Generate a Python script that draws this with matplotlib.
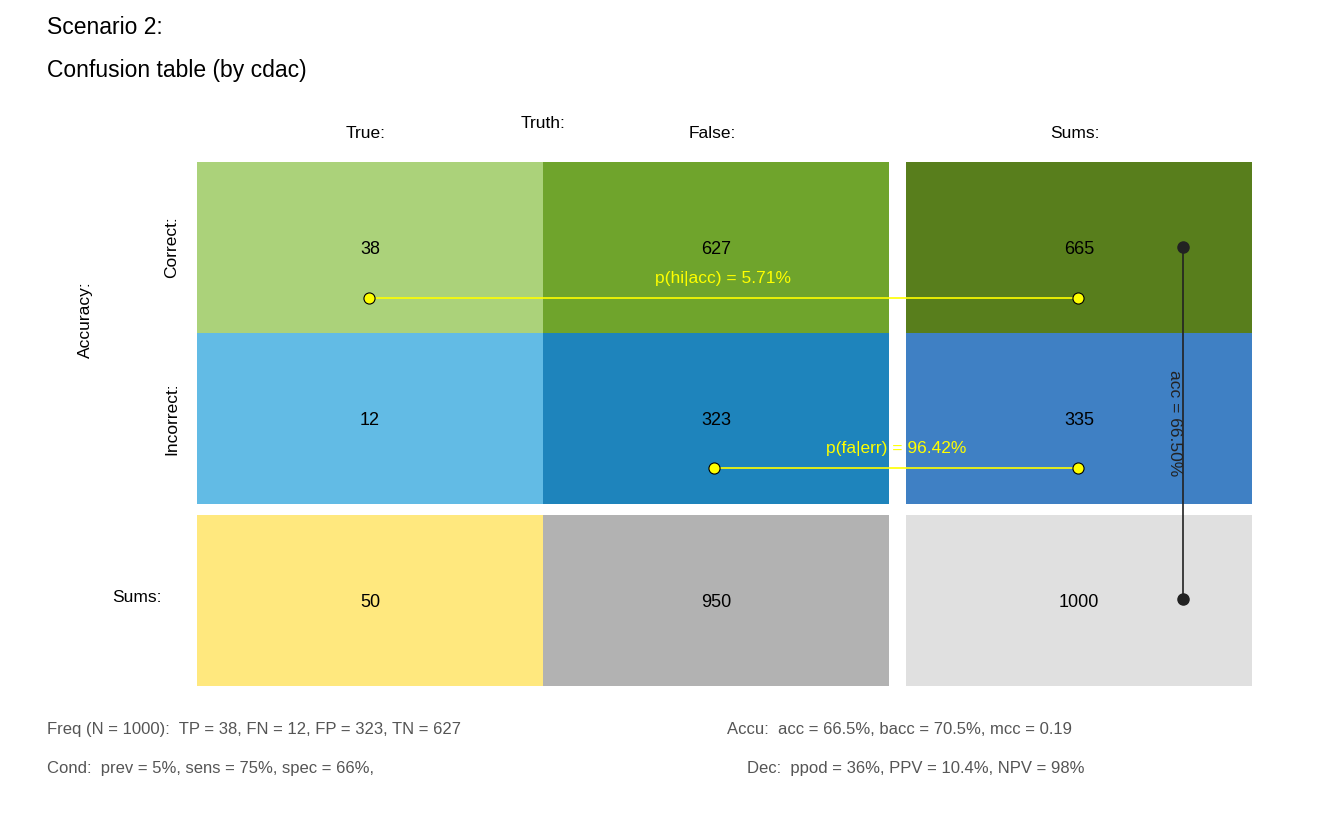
import numpy as np
import matplotlib.pyplot as plt

plt.rcParams['font.family'] = ['Liberation Sans', 'DejaVu Sans']

# counts: rows = Correct, Incorrect, Sums ; cols = True, False, Sums
counts = [[38, 627, 665],
          [12, 323, 335],
          [50, 950, 1000]]
colors = [['#ABD27A', '#6FA42C', '#587E1C'],
          ['#62BBE5', '#1E84BC', '#3F80C4'],
          ['#FFE87E', '#B2B2B2', '#E0E0E0']]
col_labels = ['True:', 'False:', 'Sums:']
row_labels = ['Correct:', 'Incorrect:', 'Sums:']
p_hi_acc = 38 / 665 * 100
p_fa_err = 323 / 335 * 100
acc = 665 / 1000 * 100
footer1 = ['Freq (N = 1000):  TP = 38, FN = 12, FP = 323, TN = 627',
           'Accu:  acc = 66.5%, bacc = 70.5%, mcc = 0.19']
footer2 = ['Cond:  prev = 5%, sens = 75%, spec = 66%,',
           'Dec:  ppod = 36%, PPV = 10.4%, NPV = 98%']

fig = plt.figure(figsize=(13.44, 8.3), dpi=100)
ax = fig.add_axes([0, 0, 1, 1])
ax.set_xlim(0, 1344)
ax.set_ylim(830, 0)
ax.axis('off')

x0, y0, w, h, gap = 197, 162, 346, 171, 17
def cx(j):
    return x0 + j * w + (gap if j == 2 else 0)
def cy(i):
    return y0 + i * h + (gap * 0.65 if i == 2 else 0)

for i in range(3):
    for j in range(3):
        ax.add_patch(plt.Rectangle((cx(j), cy(i)), w, h, color=colors[i][j], lw=0))
        ax.text(cx(j) + w / 2, cy(i) + h / 2 + 2, str(counts[i][j]),
                ha='center', va='center', fontsize=13)

for j, lab in enumerate(col_labels):
    ax.text(cx(j) + w / 2 - 4, 133, lab, ha='center', va='center', fontsize=12.5)
ax.text(543, 124, 'Truth:', ha='center', va='center', fontsize=12.5)
ax.text(172, cy(0) + h / 2, row_labels[0], rotation=90, ha='center', va='center', fontsize=12.5)
ax.text(172, cy(1) + h / 2, row_labels[1], rotation=90, ha='center', va='center', fontsize=12.5)
ax.text(137, 597, row_labels[2], ha='center', va='center', fontsize=12.5)
ax.text(85, 320, 'Accuracy:', rotation=90, ha='center', va='center', fontsize=12.5)

ax.text(47, 28, 'Scenario 2:', fontsize=16.5, va='center')
ax.text(47, 70, 'Confusion table (by cdac)', fontsize=16.5, va='center')

# p(hi|acc)
ax.plot([369, 1078], [298, 298], color='#FFFF00', lw=1.2, marker='o', ms=8,
        mfc='#FFFF00', mec='black', mew=0.8)
ax.text(723, 278, 'p(hi|acc) = %.2f%%' % p_hi_acc, color='#FFFF00', ha='center', va='center', fontsize=12.5)
# p(fa|err)
ax.plot([714, 1078], [468, 468], color='#FFFF00', lw=1.2, marker='o', ms=8,
        mfc='#FFFF00', mec='black', mew=0.8)
ax.text(896, 448, 'p(fa|err) = %.2f%%' % p_fa_err, color='#FFFF00', ha='center', va='center', fontsize=12.5)
# acc
ax.plot([1183, 1183], [247, 599], color='#222222', lw=1.2, marker='o', ms=8,
        mfc='#222222', mec='#222222')
ax.text(1175, 423, 'acc = %.2f%%' % acc, color='#222222', rotation=270, ha='center', va='center', fontsize=12.5)

ax.text(47, 729, footer1[0], color='#555555', fontsize=12, va='center')
ax.text(727, 729, footer1[1], color='#555555', fontsize=12, va='center')
ax.text(47, 768, footer2[0], color='#555555', fontsize=12, va='center')
ax.text(747, 768, footer2[1], color='#555555', fontsize=12, va='center')

fig.savefig('out.png', dpi=100)
